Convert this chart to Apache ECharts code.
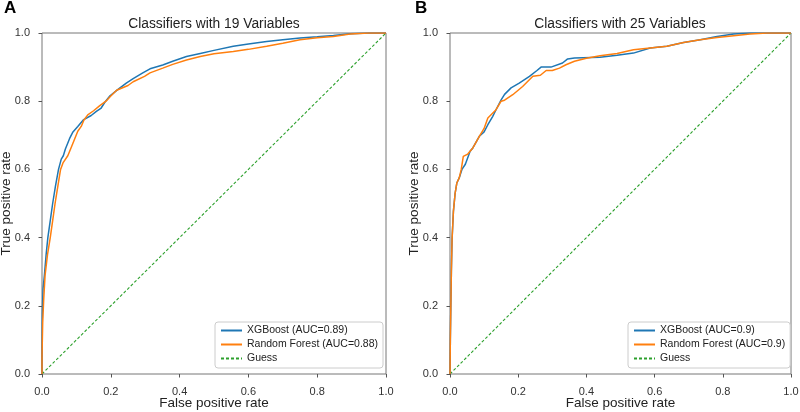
<!DOCTYPE html>
<html><head><meta charset="utf-8">
<script src="https://cdn.jsdelivr.net/npm/echarts@6/dist/echarts.min.js"></script>
<style>html,body{margin:0;padding:0;background:#fff}#c{width:800px;height:412px}</style>
</head><body><div id="c"></div>
<script>
// Panel A (19 variables)
const xgbA_fpr = [0,0,0.001,0.003,0.007,0.012,0.017,0.024,0.031,0.039,0.048,0.056,0.062,0.068,0.080,0.090,0.104,0.120,0.143,0.158,0.172,0.185,0.196,0.220,0.245,0.265,0.293,0.314,0.351,0.380,0.420,0.460,0.500,0.556,0.600,0.653,0.700,0.750,0.800,0.847,0.896,0.950,1];
const xgbA_tpr = [0,0.08,0.18,0.25,0.29,0.35,0.40,0.45,0.50,0.55,0.60,0.63,0.64,0.66,0.69,0.71,0.726,0.745,0.758,0.77,0.78,0.80,0.814,0.834,0.853,0.866,0.883,0.895,0.906,0.917,0.931,0.94,0.949,0.961,0.968,0.975,0.98,0.985,0.989,0.993,0.998,1.0,1];
const rfA_fpr = [0,0,0.002,0.005,0.009,0.016,0.024,0.031,0.038,0.046,0.054,0.061,0.075,0.084,0.094,0.104,0.114,0.122,0.133,0.150,0.168,0.186,0.200,0.217,0.250,0.265,0.298,0.314,0.351,0.380,0.420,0.460,0.500,0.556,0.600,0.653,0.700,0.750,0.800,0.847,0.896,0.950,1];
const rfA_tpr = [0,0.05,0.15,0.22,0.29,0.35,0.40,0.45,0.50,0.55,0.60,0.619,0.64,0.662,0.687,0.712,0.726,0.745,0.76,0.772,0.787,0.80,0.815,0.832,0.846,0.857,0.873,0.883,0.897,0.908,0.921,0.931,0.939,0.946,0.952,0.961,0.97,0.98,0.986,0.99,0.997,1.0,1];
// Panel B (25 variables)
const xgbB_fpr = [0,0.001,0.004,0.006,0.010,0.015,0.020,0.027,0.035,0.045,0.049,0.059,0.067,0.086,0.100,0.111,0.125,0.135,0.150,0.160,0.179,0.203,0.233,0.255,0.267,0.296,0.330,0.345,0.365,0.440,0.490,0.538,0.587,0.636,0.685,0.734,0.783,0.832,0.880,1];
const xgbB_tpr = [0,0.10,0.30,0.394,0.477,0.53,0.56,0.575,0.60,0.615,0.619,0.653,0.663,0.697,0.71,0.731,0.755,0.775,0.804,0.82,0.839,0.853,0.873,0.89,0.90,0.90,0.912,0.924,0.927,0.929,0.935,0.941,0.956,0.961,0.972,0.98,0.99,0.997,1.0,1];
const rfB_fpr = [0,0.001,0.004,0.006,0.010,0.015,0.020,0.027,0.033,0.039,0.052,0.067,0.086,0.100,0.111,0.135,0.150,0.160,0.184,0.213,0.243,0.265,0.282,0.300,0.321,0.340,0.365,0.400,0.440,0.490,0.538,0.587,0.636,0.685,0.734,0.783,0.832,0.880,0.930,1];
const rfB_tpr = [0,0.10,0.30,0.394,0.477,0.53,0.56,0.575,0.60,0.638,0.645,0.663,0.697,0.72,0.751,0.775,0.80,0.803,0.819,0.843,0.873,0.876,0.89,0.89,0.897,0.907,0.917,0.926,0.933,0.94,0.951,0.956,0.961,0.972,0.98,0.987,0.992,0.997,1.0,1];
const guess = [0,1];
const ticks = [0,0.2,0.4,0.6,0.8,1.0];
const panelTitles = ['Classifiers with 19 Variables','Classifiers with 25 Variables'];
const panelLetters = ['A','B'];
const namesA = ['XGBoost (AUC=0.89)','Random Forest (AUC=0.88)','Guess'];
const namesB = ['XGBoost (AUC=0.9)','Random Forest (AUC=0.9)','Guess'];

const zip = (a,b) => a.map((v,i)=>[v,b[i]]);
const FONT = '"Liberation Sans", Arial, sans-serif';
const GREEN = '#2ca02c';
const grids = [
  {left:42, top:33, width:344, height:341},
  {left:450, top:33, width:341, height:341}
];
function xAx(i){return {type:'value',gridIndex:i,min:0,max:1,interval:0.2,
  name:'False positive rate',nameLocation:'middle',nameGap:22,nameMoveOverlap:false,
  nameTextStyle:{fontFamily:FONT,fontSize:13.5,color:'#222',verticalAlign:'top'},
  axisLine:{show:false},splitLine:{show:false},
  axisTick:{show:true,length:3.5,lineStyle:{color:'#555'}},
  axisLabel:{fontFamily:FONT,fontSize:11,color:'#333',margin:12,formatter:v=>v.toFixed(1)}};}
function yAx(i){return {type:'value',gridIndex:i,min:0,max:1,interval:0.2,
  name:'True positive rate',nameLocation:'middle',nameGap:29,nameMoveOverlap:false,
  nameTextStyle:{fontFamily:FONT,fontSize:13.5,color:'#222'},
  axisLine:{show:false},splitLine:{show:false},
  axisTick:{show:true,length:3.5,lineStyle:{color:'#555'}},
  axisLabel:{fontFamily:FONT,fontSize:11,color:'#333',margin:12,formatter:v=>v.toFixed(1)}};}
function line(name,data,color,i,dashed){return {type:'line',name:name,xAxisIndex:i,yAxisIndex:i,
  data:data,symbol:'none',smooth:false,animation:false,color:color,
  lineStyle:{color:color,width:dashed?1.1:1.5,type:dashed?[3,2]:'solid',opacity:1},itemStyle:{color:color},z:dashed?1:2};}
function legend(i,names,left){return {left:left,top:322,orient:'vertical',data:names,
  itemWidth:21,itemHeight:12,itemGap:3,itemTextGap:7,
  itemStyle:{opacity:0},
  padding:[3,5,4,5],borderColor:'#ccc',borderWidth:1,borderRadius:3,backgroundColor:'#fff',
  textStyle:{fontFamily:FONT,fontSize:10.5,color:'#222'},selectedMode:false};}

const chart = echarts.init(document.getElementById('c'),null,{renderer:'canvas'});
chart.setOption({
  animation:false,
  grid: grids.map(g=>Object.assign({show:true,borderColor:'#777',borderWidth:1,backgroundColor:'transparent',outerBoundsMode:'none',containLabel:false},g)),
  xAxis:[xAx(0),xAx(1)],
  yAxis:[yAx(0),yAx(1)],
  legend:[legend(0,namesA,215),legend(1,namesB,628)],
  graphic:[
    {type:'text',left:4,top:0,style:{text:panelLetters[0],font:'bold 17px '+FONT,fill:'#000'}},
    {type:'text',left:415,top:0,style:{text:panelLetters[1],font:'bold 17px '+FONT,fill:'#000'}},
    {type:'text',x:214,y:24,style:{text:panelTitles[0],font:'13.8px '+FONT,fill:'#222',textAlign:'center',textVerticalAlign:'middle'}},
    {type:'text',x:620,y:24,style:{text:panelTitles[1],font:'13.8px '+FONT,fill:'#222',textAlign:'center',textVerticalAlign:'middle'}}
  ],
  series:[
    line(namesA[2],zip(guess,guess),GREEN,0,true),
    line(namesA[0],zip(xgbA_fpr,xgbA_tpr),'#1f77b4',0,false),
    line(namesA[1],zip(rfA_fpr,rfA_tpr),'#ff7f0e',0,false),
    line(namesB[2],zip(guess,guess),GREEN,1,true),
    line(namesB[0],zip(xgbB_fpr,xgbB_tpr),'#1f77b4',1,false),
    line(namesB[1],zip(rfB_fpr,rfB_tpr),'#ff7f0e',1,false)
  ]
});
</script></body></html>
